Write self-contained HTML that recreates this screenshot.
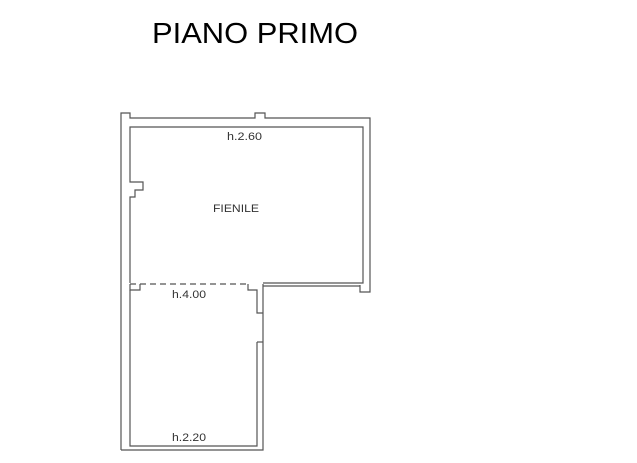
<!DOCTYPE html>
<html><head><style>html,body{margin:0;padding:0;background:#fff}</style></head>
<body>
<svg width="637" height="463" xmlns="http://www.w3.org/2000/svg" style="display:block">
<rect width="637" height="463" fill="#fff"/>
<text x="152" y="43" font-family="Liberation Sans, sans-serif" font-size="29" fill="#000" textLength="206" lengthAdjust="spacingAndGlyphs">PIANO PRIMO</text>
<g fill="none" stroke="#555" stroke-width="1.2">
<!-- outer -->
<polyline points="121,450 121,113 130,113 130,118 255,118 255,113 265,113 265,118 370,118 370,292 360,292 360,285"/>
<polyline points="263,286 360,286"/>
<polyline points="121,450 263,450 263,284"/>
<!-- inner upper -->
<polyline points="130,283 130,197 135,197 135,190 143,190 143,182 130,182 130,127 363,127 363,283 263,283"/>
<line x1="130" y1="284" x2="248" y2="284" stroke-dasharray="6,4"/>
<!-- inner lower -->
<polyline points="130,284 130,290 140,290 140,284"/>
<polyline points="130,290 130,446 257,446 257,342"/>
<polyline points="248,284 248,290 257,290 257,313 263,313"/>
<line x1="257" y1="342" x2="263" y2="342"/>
</g>
<g font-family="Liberation Sans, sans-serif" font-size="11" fill="#333">
<text x="227" y="140" textLength="35" lengthAdjust="spacingAndGlyphs">h.2.60</text>
<text x="213" y="212" textLength="46" lengthAdjust="spacingAndGlyphs">FIENILE</text>
<text x="172" y="298" textLength="34" lengthAdjust="spacingAndGlyphs">h.4.00</text>
<text x="172" y="441" textLength="34" lengthAdjust="spacingAndGlyphs">h.2.20</text>
</g>
</svg>
</body></html>
